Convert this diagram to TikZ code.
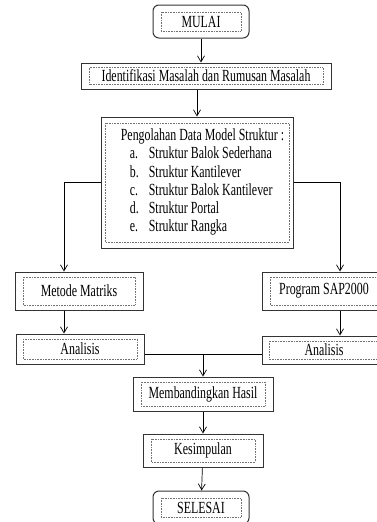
\documentclass[tikz,border=0pt]{standalone}
\usepackage{fontspec}
\setmainfont{Liberation Serif}[FakeStretch=0.7]
\usetikzlibrary{arrows.meta}

\tikzset{inset x/.initial=8pt, inset y/.initial=5pt}

\begin{document}
\begin{tikzpicture}[x=1pt,y=-1pt,
  stepbox/.style={draw=black!80, line width=1pt, inner sep=0pt,
    font=\fontsize{17}{18.3}\selectfont,
    path picture={\draw[sharp corners, black!55, line width=0.6pt, densely dotted]
      ([shift={(\pgfkeysvalueof{/tikz/inset x},-\pgfkeysvalueof{/tikz/inset y})}]path picture bounding box.north west)
      rectangle
      ([shift={(-\pgfkeysvalueof{/tikz/inset x},\pgfkeysvalueof{/tikz/inset y})}]path picture bounding box.south east);}},
  startbox/.style={stepbox, rounded corners=6pt},
  flow/.style={line width=0.7pt, -{Straight Barb[length=6pt,width=7pt]}}]
\useasboundingbox (0,0) rectangle (377,522);
\clip (0,0) rectangle (377,522);

\node[startbox, minimum width=96pt, minimum height=33pt, inset y=7pt] (mulai) at (201,21.5) {MULAI};
\node[stepbox, minimum width=250pt, minimum height=26pt, inset y=4.5pt] (identifikasi) at (206,76) {Identifikasi Masalah dan Rumusan Masalah};
\node[stepbox, minimum width=192pt, minimum height=131pt, inset x=4pt, inset y=6pt] (pengolahan) at (197,182.5) {%
\begin{tabular}{@{\hspace{11pt}}l@{}}
Pengolahan Data Model Struktur :\\
\hspace{9pt}\makebox[19pt][l]{a.}Struktur Balok Sederhana\\
\hspace{9pt}\makebox[19pt][l]{b.}Struktur Kantilever\\
\hspace{9pt}\makebox[19pt][l]{c.}Struktur Balok Kantilever\\
\hspace{9pt}\makebox[19pt][l]{d.}Struktur Portal\\
\hspace{9pt}\makebox[19pt][l]{e.}Struktur Rangka
\end{tabular}};

\node[stepbox, minimum width=128pt, minimum height=38pt] (metode) at (79,291) {Metode Matriks};
\node[stepbox, minimum width=128pt, minimum height=30pt, inset x=7pt] (analisiskiri) at (80,349) {Analisis};
\node[stepbox, minimum width=124pt, minimum height=38pt] (program) at (324,291) {Program SAP2000};
\node[stepbox, minimum width=124pt, minimum height=28pt, inset x=7pt] (analisiskanan) at (324,350) {Analisis};

\node[stepbox, minimum width=140pt, minimum height=34pt] (membandingkan) at (203,394) {Membandingkan Hasil};
\node[stepbox, minimum width=120pt, minimum height=33pt] (kesimpulan) at (203,450.5) {Kesimpulan};
\node[startbox, minimum width=96pt, minimum height=33pt, inset y=7pt] (selesai) at (201,507.5) {SELESAI};

\draw[flow] (mulai) -- (mulai |- identifikasi.north);
\draw[flow] (pengolahan.north |- identifikasi.south) -- (pengolahan.north);
\draw[flow] (pengolahan.west) -| ([xshift=-15pt]metode.north);
\draw[flow] (pengolahan.east) -| ([xshift=16pt]program.north);
\draw[flow] ([xshift=-15pt]metode.south) -- ([xshift=-15pt]metode.south |- analisiskiri.north);
\draw[flow] ([xshift=16pt]program.south) -- ([xshift=16pt]program.south |- analisiskanan.north);
\draw[line width=0.7pt] ([yshift=-5pt]analisiskiri.east) -- ([yshift=-5pt]analisiskiri.east -| analisiskanan.west);
\coordinate (gabung) at ([yshift=-5pt]analisiskiri.east -| membandingkan.north);
\draw[flow] (gabung) -- (membandingkan);
\draw[flow] (membandingkan) -- (kesimpulan);
\draw[flow] (kesimpulan) -- (selesai);
\end{tikzpicture}
\end{document}
